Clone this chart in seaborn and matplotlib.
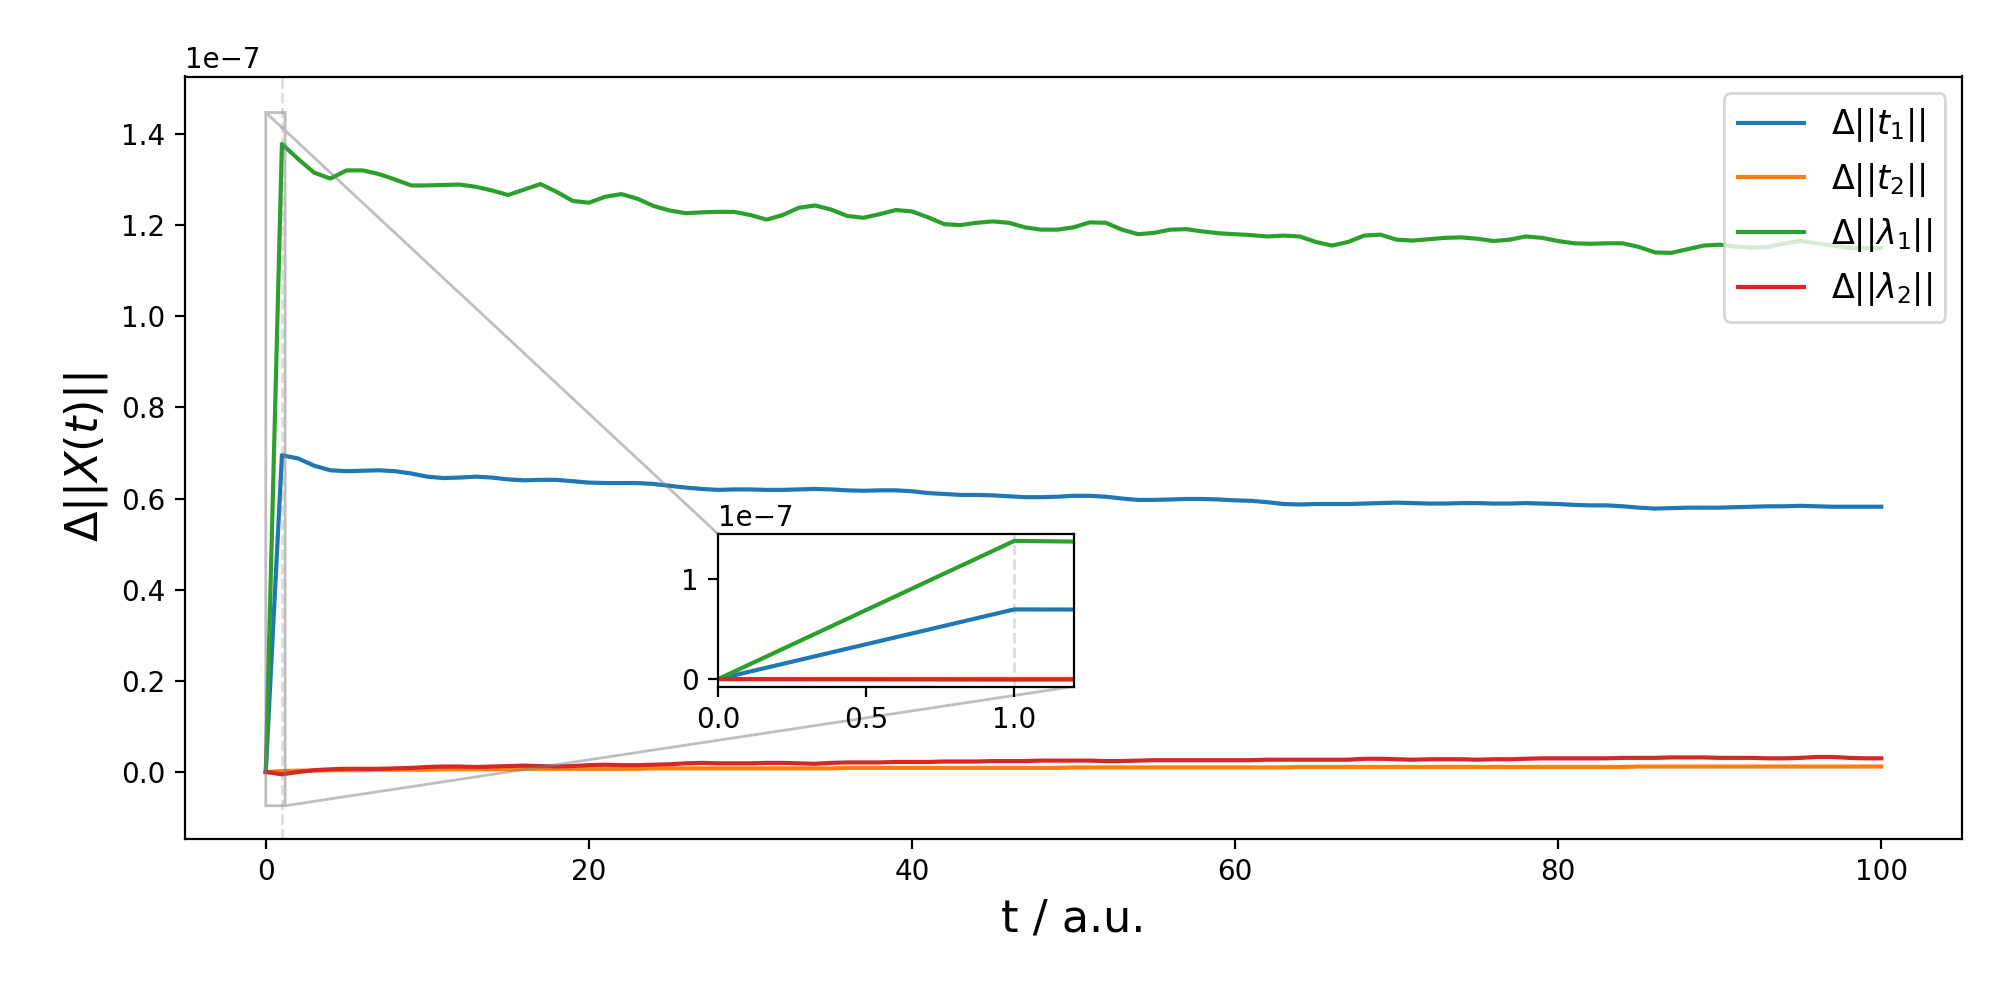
import numpy as np
import matplotlib
matplotlib.use("Agg")
import matplotlib.pyplot as plt
import seaborn as sns

# time steps (a.u.)
t = np.arange(0, 101)

# norm differences, in units of 1e-7
d_t1 = [0, 0.695, 0.688, 0.672, 0.662, 0.660, 0.661, 0.662, 0.660, 0.655,
        0.648, 0.645, 0.646, 0.648, 0.646, 0.642, 0.640, 0.641, 0.641, 0.638,
        0.635, 0.634, 0.634, 0.634, 0.632, 0.628, 0.624, 0.621, 0.619, 0.620,
        0.620, 0.619, 0.619, 0.620, 0.621, 0.620, 0.618, 0.617, 0.618, 0.618,
        0.616, 0.612, 0.610, 0.608, 0.608, 0.607, 0.605, 0.603, 0.603, 0.604,
        0.606, 0.606, 0.604, 0.600, 0.597, 0.597, 0.598, 0.599, 0.599, 0.598,
        0.596, 0.595, 0.592, 0.588, 0.587, 0.588, 0.588, 0.588, 0.589, 0.590,
        0.591, 0.590, 0.589, 0.589, 0.590, 0.590, 0.589, 0.589, 0.590, 0.589,
        0.588, 0.586, 0.585, 0.585, 0.583, 0.580, 0.578, 0.579, 0.580, 0.580,
        0.580, 0.581, 0.582, 0.583, 0.583, 0.584, 0.583, 0.582, 0.582, 0.582,
        0.582]
d_t2 = [0, 0.002, 0.003, 0.003, 0.004, 0.004, 0.004, 0.005, 0.005, 0.005,
        0.005, 0.006, 0.006, 0.006, 0.006, 0.006, 0.007, 0.007, 0.007, 0.007,
        0.007, 0.007, 0.007, 0.007, 0.008, 0.008, 0.008, 0.008, 0.008, 0.008,
        0.008, 0.008, 0.008, 0.008, 0.008, 0.008, 0.009, 0.009, 0.009, 0.009,
        0.009, 0.009, 0.009, 0.009, 0.009, 0.009, 0.009, 0.009, 0.009, 0.009,
        0.010, 0.010, 0.010, 0.010, 0.010, 0.010, 0.010, 0.010, 0.010, 0.010,
        0.010, 0.010, 0.010, 0.010, 0.011, 0.011, 0.011, 0.011, 0.011, 0.011,
        0.011, 0.011, 0.011, 0.011, 0.011, 0.011, 0.011, 0.011, 0.011, 0.011,
        0.011, 0.011, 0.011, 0.011, 0.011, 0.012, 0.012, 0.012, 0.012, 0.012,
        0.012, 0.012, 0.012, 0.012, 0.012, 0.012, 0.012, 0.012, 0.012, 0.012,
        0.012]
d_l1 = [0, 1.378, 1.345, 1.315, 1.302, 1.320, 1.320, 1.312, 1.300, 1.287,
        1.287, 1.288, 1.289, 1.284, 1.276, 1.266, 1.278, 1.290, 1.273, 1.253,
        1.249, 1.262, 1.268, 1.258, 1.242, 1.232, 1.226, 1.228, 1.229, 1.229,
        1.222, 1.212, 1.222, 1.238, 1.243, 1.234, 1.220, 1.216, 1.224, 1.233,
        1.230, 1.217, 1.202, 1.200, 1.205, 1.208, 1.205, 1.195, 1.190, 1.190,
        1.195, 1.206, 1.205, 1.190, 1.180, 1.183, 1.190, 1.191, 1.186, 1.182,
        1.180, 1.178, 1.175, 1.177, 1.175, 1.163, 1.155, 1.163, 1.177, 1.179,
        1.168, 1.166, 1.169, 1.172, 1.173, 1.170, 1.165, 1.168, 1.175, 1.172,
        1.165, 1.160, 1.159, 1.160, 1.160, 1.152, 1.140, 1.139, 1.147, 1.155,
        1.157, 1.153, 1.150, 1.152, 1.160, 1.165, 1.160, 1.155, 1.150, 1.149,
        1.150]
d_l2 = [0, -0.005, 0.000, 0.004, 0.006, 0.007, 0.007, 0.007, 0.008, 0.009,
        0.011, 0.012, 0.012, 0.011, 0.012, 0.013, 0.014, 0.013, 0.012, 0.013,
        0.015, 0.016, 0.015, 0.015, 0.016, 0.017, 0.019, 0.020, 0.019, 0.019,
        0.019, 0.020, 0.020, 0.019, 0.018, 0.020, 0.021, 0.021, 0.021, 0.022,
        0.022, 0.022, 0.023, 0.023, 0.023, 0.024, 0.024, 0.024, 0.025, 0.025,
        0.025, 0.025, 0.024, 0.024, 0.025, 0.026, 0.026, 0.026, 0.026, 0.026,
        0.026, 0.026, 0.027, 0.027, 0.027, 0.027, 0.027, 0.027, 0.029, 0.029,
        0.028, 0.027, 0.028, 0.028, 0.028, 0.027, 0.028, 0.028, 0.029, 0.030,
        0.030, 0.030, 0.030, 0.030, 0.031, 0.031, 0.031, 0.032, 0.032, 0.032,
        0.031, 0.031, 0.031, 0.030, 0.030, 0.031, 0.033, 0.033, 0.031, 0.030,
        0.030]

labels = [r'$\Delta||t_1||$', r'$\Delta||t_2||$', r'$\Delta||\lambda_1||$', r'$\Delta||\lambda_2||$']
series = [d_t1, d_t2, d_l1, d_l2]
colors = sns.color_palette("tab10", 4)

fig, ax = plt.subplots(figsize=(10, 5), dpi=200)
for s, lab, c in zip(series, labels, colors):
    sns.lineplot(x=t, y=np.array(s) * 1e-7, label=lab, color=c, ax=ax)
ax.axvline(1, color='0.87', ls='--', lw=1, zorder=0)

# zoom on the first step
axins = ax.inset_axes([0.3, 0.2, 0.2, 0.2])
for s, c in zip(series, colors):
    sns.lineplot(x=t, y=np.array(s) * 1e-7, color=c, ax=axins, legend=False)
axins.axvline(1, color='0.87', ls='--', lw=1, zorder=0)
axins.set_xlim(0, 1.2)
axins.set_ylim(-0.074e-7, 1.447e-7)
axins.set_xticks([0, 0.5, 1.0])
axins.set_yticks([0, 1e-7])
axins.set_xlabel('')
axins.set_ylabel('')
ax.indicate_inset_zoom(axins)

ax.set_xlim(-5, 105)
ax.set_ylim(-0.147e-7, 1.526e-7)
ax.set_xlabel('t / a.u.', fontsize=16)
ax.set_ylabel(r'$\Delta||X(t)||$', fontsize=16)
ax.legend(loc='upper right', fontsize=12)

fig.subplots_adjust(left=0.0925, right=0.981, bottom=0.161, top=0.9235)
fig.savefig('out.png')
